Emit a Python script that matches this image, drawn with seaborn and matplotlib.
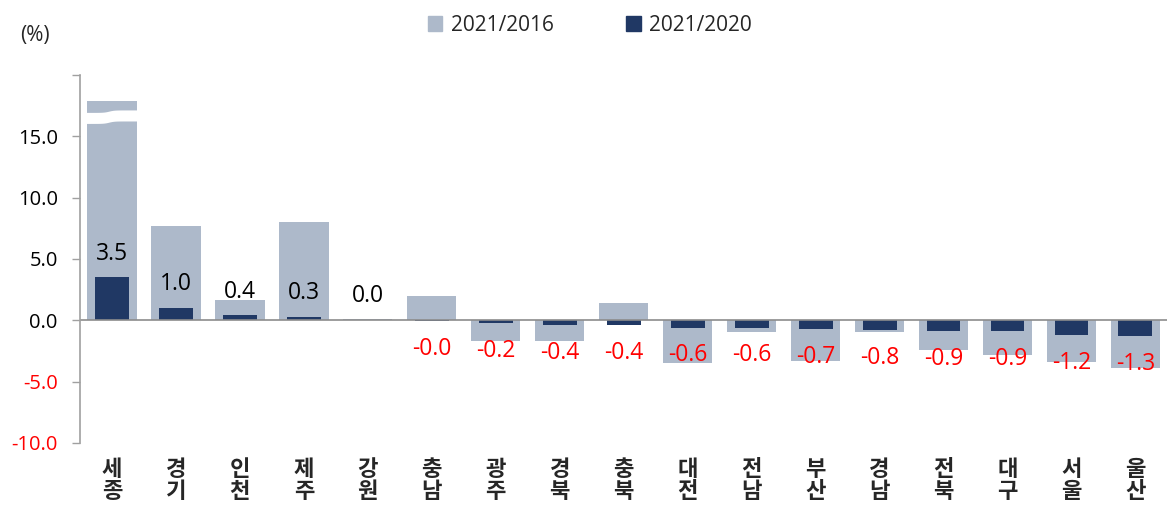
import numpy as np
import pandas as pd
import matplotlib
matplotlib.use('Agg')
import matplotlib.pyplot as plt
from matplotlib.patches import Patch
import seaborn as sns

# regions (two-line labels) and growth rates in %
regions = ['세종', '경기', '인천', '제주', '강원', '충남', '광주', '경북', '충북',
           '대전', '전남', '부산', '경남', '전북', '대구', '서울', '울산']
# 2021/2016 (세종 is drawn broken at the top of the axis)
vs2016 = [17.9, 7.7, 1.65, 8.0, 0.08, 2.0, -1.7, -1.7, 1.4,
          -3.5, -0.95, -3.3, -0.95, -2.4, -2.85, -3.4, -3.9]
# 2021/2020
vs2020 = [3.5, 1.0, 0.4, 0.3, 0.04, -0.04, -0.2, -0.4, -0.4,
          -0.6, -0.6, -0.7, -0.8, -0.9, -0.9, -1.2, -1.3]

light = '#adb9ca'
dark = '#203864'

df = pd.DataFrame({'region': regions, 'v2016': vs2016, 'v2020': vs2020})

sns.set_theme(style='white')
plt.rcParams['font.family'] = ['Open Sans', 'Noto Sans CJK KR', 'DejaVu Sans']

fig = plt.figure(figsize=(11.68, 5.09), dpi=100)
ax = fig.add_axes([0.0685, 0.1297, 0.931, 0.723])

sns.barplot(data=df, x='region', y='v2016', color=light, width=0.77,
            saturation=1, errorbar=None, linewidth=0, ax=ax)
sns.barplot(data=df, x='region', y='v2020', color=dark, width=0.53,
            saturation=1, errorbar=None, linewidth=0, ax=ax)

# axis break on the first bar
xs = np.linspace(-0.42, 0.42, 50)
s = 1 / (1 + np.exp(-(xs + 0.05) * 25))
ax.fill_between(xs, 16.05 + 0.2 * s, 16.95 + 0.2 * s, color='white', lw=0, zorder=5)

# value labels for 2021/2020
for i, v in enumerate(vs2020):
    txt = f'{v:.1f}'
    if v >= 0:
        ax.annotate(txt, (i, v), xytext=(0, 17), textcoords='offset points',
                    ha='center', va='center', fontsize=16.5, color='black')
    else:
        ax.annotate(txt, (i, v), xytext=(0, -20), textcoords='offset points',
                    ha='center', va='center', fontsize=16.5, color='red')

ax.axhline(0, color='#8c8c8c', lw=1.2, zorder=1)
ax.set_xlim(-0.5, len(regions) - 0.5)
ax.set_ylim(-10, 20)
ticks = np.arange(-10, 21, 5)
ax.set_yticks(ticks)
ax.set_yticklabels([f'{t:.1f}' if t < 20 else '' for t in ticks])
for lab, t in zip(ax.get_yticklabels(), ticks):
    lab.set_color('red' if t < 0 else 'black')
ax.tick_params(axis='y', which='both', left=True, length=6, width=1,
               color='#a0a0a0', pad=10, labelsize=14.5)
ax.set_xticks(range(len(regions)))
ax.set_xticklabels(['\n'.join(r) for r in regions], fontsize=16,
                   fontweight='bold', linespacing=1.1)
ax.tick_params(axis='x', bottom=False, pad=6)
ax.set_xlabel('')
ax.set_ylabel('')

for side in ['top', 'right', 'bottom']:
    ax.spines[side].set_visible(False)
ax.spines['left'].set_color('#a0a0a0')
ax.spines['left'].set_linewidth(1.2)

handles = [Patch(color=light, label='2021/2016'), Patch(color=dark, label='2021/2020')]
fig.legend(handles=handles, loc='center', bbox_to_anchor=(0.505, 0.95), ncol=2,
           frameon=False, fontsize=15, handlelength=0.7, handleheight=0.7,
           handletextpad=0.4, columnspacing=3.5)

fig.text(0.017, 0.93, '(%)', fontsize=15, va='center')

fig.savefig('out.png', dpi=100)
